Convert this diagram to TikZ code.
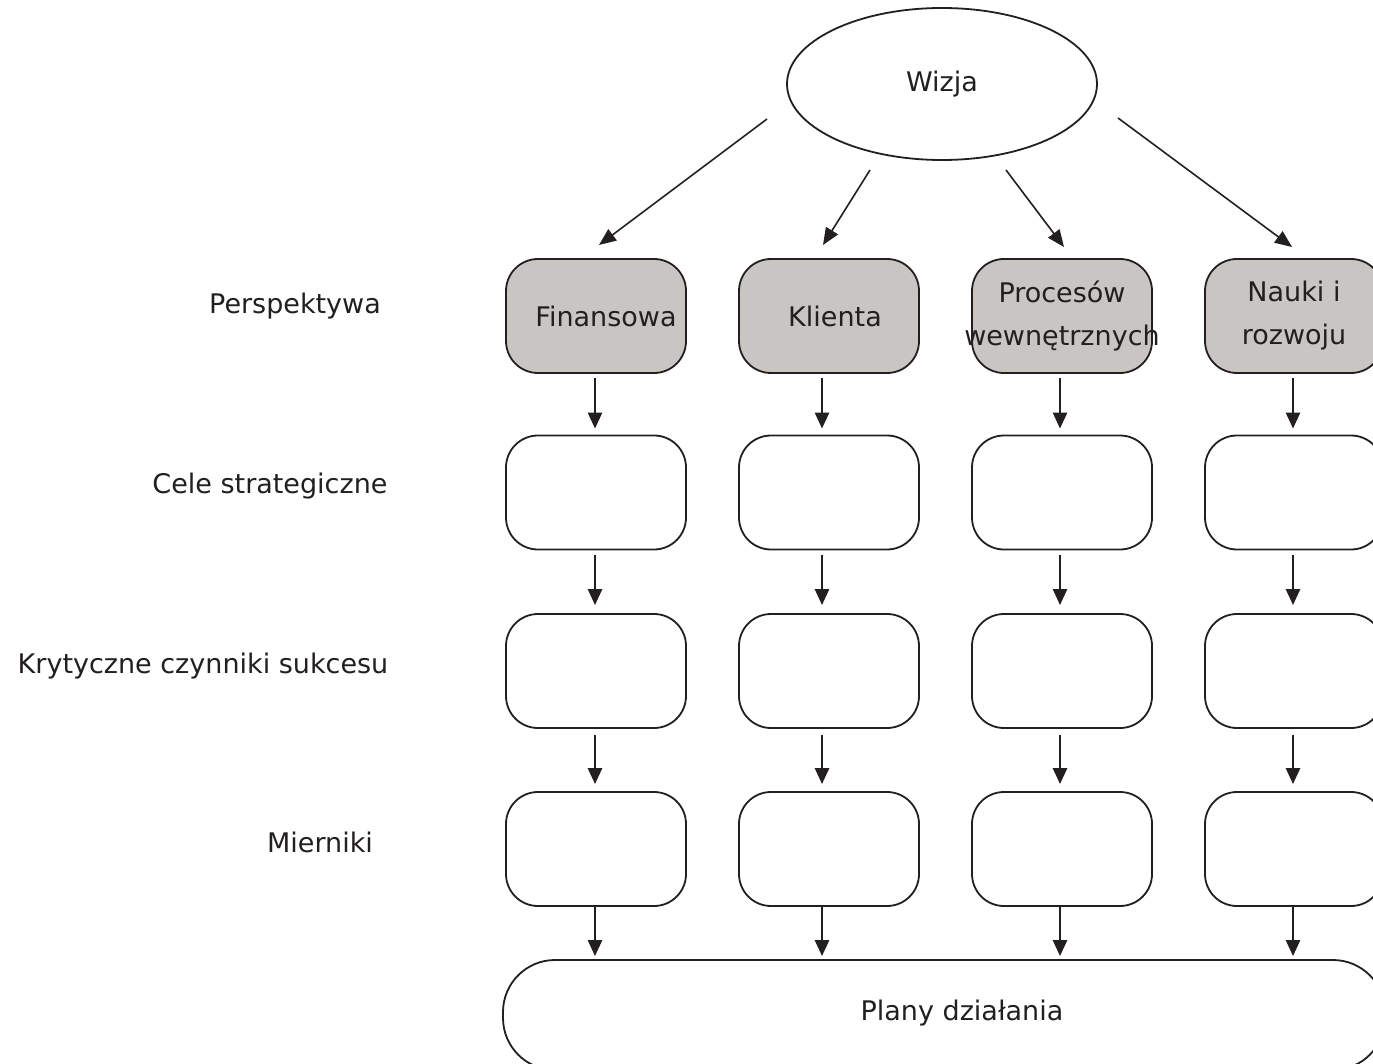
\documentclass[tikz,border=0pt]{standalone}
\usepackage{fontspec}
\setmainfont{DejaVu Sans}
\usetikzlibrary{shapes.geometric,arrows.meta}
\definecolor{ink}{RGB}{35,31,32}
\definecolor{boxgrey}{RGB}{201,197,195}
\begin{document}
\begin{tikzpicture}[x=1pt,y=-1pt,
  font=\fontsize{27}{43}\selectfont, text=ink,
  box/.style={draw=ink, line width=1.8pt, rounded corners=32pt,
    minimum width=180pt, minimum height=114pt, inner sep=0pt, align=center},
  greybox/.style={box, fill=boxgrey},
  lbl/.style={anchor=base, inner sep=0pt},
  varrow/.style={draw=ink, line width=2.6pt, -{Triangle[length=16pt,width=14pt]}},
  darrow/.style={draw=ink, line width=1.6pt, -{Triangle[length=17pt,width=14pt]}}]
\useasboundingbox (0,0) rectangle (1373,1064);
\clip (0,0) rectangle (1373,1064);

% vision
\node[ellipse, draw=ink, line width=1.8pt, minimum width=310pt, minimum height=152pt, inner sep=0pt] (wizja) at (942,84) {Wizja};

% left labels
\node[lbl] (lp) at (295,314) {Perspektywa};
\node[lbl] (lc) at (270,493) {Cele strategiczne};
\node[lbl] (lk) at (203,673) {Krytyczne czynniki sukcesu};
\node[lbl] (lm) at (320,852) {Mierniki};

% perspective row
\node[greybox] (p1) at (596,316) {\hspace*{20pt}Finansowa};
\node[greybox] (p2) at (829,316) {\hspace*{12pt}Klienta};
\node[greybox] (p3) at (1062,316) {Procesów\\\makebox[0pt]{wewnętrznych}};
\node[greybox, minimum width=178pt] (p4) at (1294,316) {Nauki i\\rozwoju};

% empty rows
\foreach \r/\y in {c/492.5, k/671, m/849}{
  \node[box] (\r1) at (596,\y) {};
  \node[box] (\r2) at (829,\y) {};
  \node[box] (\r3) at (1062,\y) {};
  \node[box, minimum width=178pt] (\r4) at (1294,\y) {};
}

% action plans
\node[box, rounded corners=52pt, minimum width=882pt, minimum height=110pt] (plany) at (944,1015) {};
\node[inner sep=0pt] (planytxt) at (962,1013) {Plany działania};

% diagonal arrows
\coordinate (d1s) at (767,119); \coordinate (d1e) at (599,245);
\coordinate (d2s) at (870,170); \coordinate (d2e) at (823,245);
\coordinate (d3s) at (1006,170); \coordinate (d3e) at (1064,247);
\coordinate (d4s) at (1118,118); \coordinate (d4e) at (1292,247);
\foreach \i in {1,2,3,4}{
  \draw[darrow] (d\i s) -- (d\i e);
}

% vertical arrows
\foreach \c/\dx in {1/-1, 2/-7, 3/-2, 4/-1}{
  \draw[varrow, shorten <=4pt, shorten >=6pt] ([xshift=\dx pt]p\c.south) -- ([xshift=\dx pt]c\c.north);
  \draw[varrow, shorten <=5pt, shorten >=8pt] ([xshift=\dx pt]c\c.south) -- ([xshift=\dx pt]k\c.north);
  \draw[varrow, shorten <=6pt, shorten >=7pt] ([xshift=\dx pt]k\c.south) -- ([xshift=\dx pt]m\c.north);
  \draw[varrow, shorten <=0pt, shorten >=3pt] ([xshift=\dx pt]m\c.south) -- ([xshift=\dx pt]m\c.south |- plany.north);
}
\end{tikzpicture}
\end{document}
